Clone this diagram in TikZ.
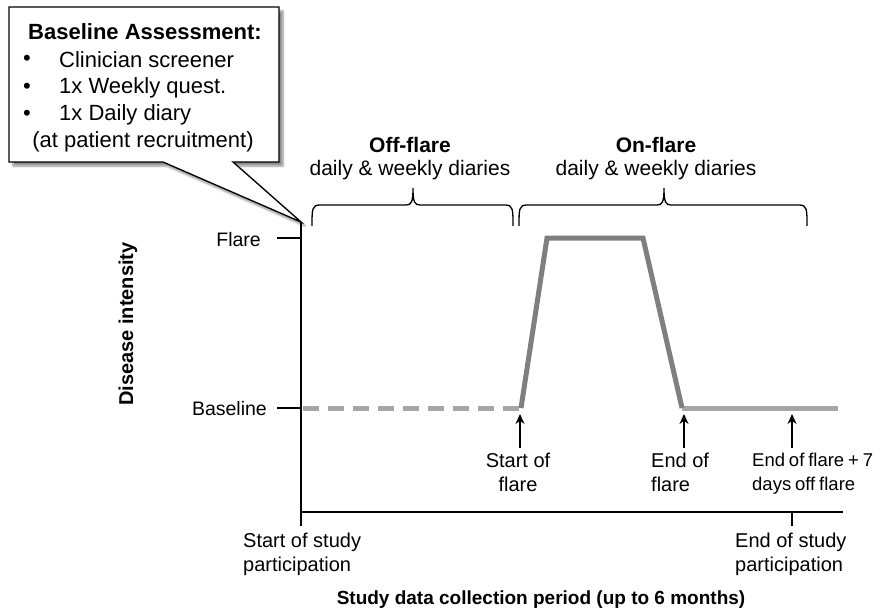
\documentclass[tikz,border=0pt]{standalone}
\usepackage{fontspec}
\setmainfont{Liberation Sans}
\newfontfamily\tightfont[WordSpace=0.75]{Liberation Sans}
\usetikzlibrary{arrows.meta,shadows.blur}
\definecolor{darkline}{HTML}{7F7F7F}
\definecolor{lightline}{HTML}{A6A6A6}
\newcommand\bracepath[4]{% x1, x2, xm, style
  \draw[#4] (#1,226) .. controls (#1,209) and (#1,205) .. ({#1+8},205)
    -- ({#3-7},205) .. controls ({#3-2},205) and (#3,203) .. (#3,188)
    .. controls (#3,203) and ({#3+2},205) .. ({#3+7},205)
    -- ({#2-8},205) .. controls (#2,205) and (#2,209) .. (#2,226);}
\begin{document}
\begin{tikzpicture}[x=1pt,y=-1pt,
  calltext/.style={font=\fontsize{22}{26}\selectfont, inner sep=0pt},
  lbl/.style={font=\fontsize{20}{24}\selectfont, inner sep=0pt, align=center},
  lblleft/.style={font=\fontsize{20}{24}\selectfont, inner sep=0pt, align=left},
  axis/.style={line width=1.4pt, black},
  upar/.style={line width=1.4pt, -{Stealth[length=10pt,width=9pt]}},
  bracestyle/.style={line width=1.3pt, black},
  flareline/.style={line width=5pt, darkline, line join=miter},
  baseline/.style={line width=5pt, lightline}
]
\useasboundingbox (0,0) rectangle (882,612);

% callout
\path[draw=black, line width=1.3pt, fill=white,
  blur shadow={shadow xshift=4pt, shadow yshift=-4pt, shadow blur steps=6, shadow opacity=45}]
  (9,7) -- (279,7) -- (279,162) -- (233,162) -- (301,222) -- (163,162) -- (9,162) -- cycle;
\node[calltext, font=\fontsize{22}{26}\selectfont\bfseries] (ba) at (145,32) {Baseline Assessment:};
\node[calltext, anchor=center] (b1) at (27,60) {•};
\node[calltext, anchor=west] (t1) at (59,60) {Clinician screener};
\node[calltext, anchor=center] (b2) at (27,88) {•};
\node[calltext, anchor=west] (t2) at (59,88) {1x Weekly quest.};
\node[calltext, anchor=center] (b3) at (27,115) {•};
\node[calltext, anchor=west] (t3) at (59,115) {1x Daily diary};
\node[calltext] (t4) at (143,142) {(at patient recruitment)};

% axes
\coordinate (ytop) at (301,222);
\coordinate (ybot) at (301,526);
\coordinate (xl) at (301,512);
\coordinate (xr) at (843,512);
\draw[axis] (ytop) -- (ybot);
\draw[axis] (xl) -- (xr);
\coordinate (etk1) at (792,512);
\coordinate (etk2) at (792,526);
\draw[axis] (etk1) -- (etk2);
\coordinate (ft1) at (277,238);
\coordinate (ft2) at (301,238);
\draw[axis] (ft1) -- (ft2);
\coordinate (bt1) at (277,408);
\coordinate (bt2) at (301,408);
\draw[axis] (bt1) -- (bt2);

\node[lbl, font=\fontsize{19.5}{24}\selectfont, anchor=east] (flarelbl) at (261,240) {Flare};
\node[lbl, font=\fontsize{19.5}{24}\selectfont, anchor=east] (baselbl) at (267,409) {Baseline};
\node[lbl, font=\fontsize{20}{24}\selectfont\bfseries, rotate=90] (ylab) at (128,324) {Disease intensity};

% data lines
\coordinate (d0) at (303,408);
\coordinate (d1) at (521,408);
\coordinate (d2) at (547,238);
\coordinate (d3) at (643,238);
\coordinate (d4) at (682,408);
\coordinate (d5) at (838,408);
\draw[baseline, dash pattern=on 16pt off 9pt] (d0) -- (d1);
\draw[baseline] (d4) -- (d5);
\draw[flareline] (d1) -- (d2) -- (d3) -- (d4);

% arrows
\coordinate (a1s) at (520,448);
\coordinate (a1e) at (520,414);
\coordinate (a2s) at (684,448);
\coordinate (a2e) at (684,414);
\coordinate (a3s) at (792,448);
\coordinate (a3e) at (792,414);
\draw[upar] (a1s) -- (a1e);
\draw[upar] (a2s) -- (a2e);
\draw[upar] (a3s) -- (a3e);

\node[lbl, anchor=north] (sof) at (518,453) {Start of\\flare};
\node[lblleft, anchor=north west] (eof) at (651,453) {End of\\flare};
\node[lblleft, font=\fontsize{18.5}{24}\tightfont, anchor=north west] (eof7) at (752,453) {End of flare + 7\\days off flare};

\node[lblleft, anchor=north west] (sos) at (243,533) {Start of study\\participation};
\node[lblleft, anchor=north west] (eos) at (735,533) {End of study\\participation};
\node[lbl, font=\fontsize{19}{24}\selectfont\bfseries] (xlab) at (541,600) {Study data collection period (up to 6 months)};

% braces
\bracepath{312}{513}{413}{bracestyle}
\bracepath{519}{807}{664}{bracestyle}
\node[lbl, font=\fontsize{21}{25}\selectfont\bfseries] (offt) at (410,145) {Off-flare};
\node[lbl, font=\fontsize{21}{25}\selectfont] (offd) at (410,170) {daily \& weekly diaries};
\node[lbl, font=\fontsize{21}{25}\selectfont\bfseries] (ont) at (656,145) {On-flare};
\node[lbl, font=\fontsize{21}{25}\selectfont] (ond) at (656,170) {daily \& weekly diaries};
\end{tikzpicture}
\end{document}
